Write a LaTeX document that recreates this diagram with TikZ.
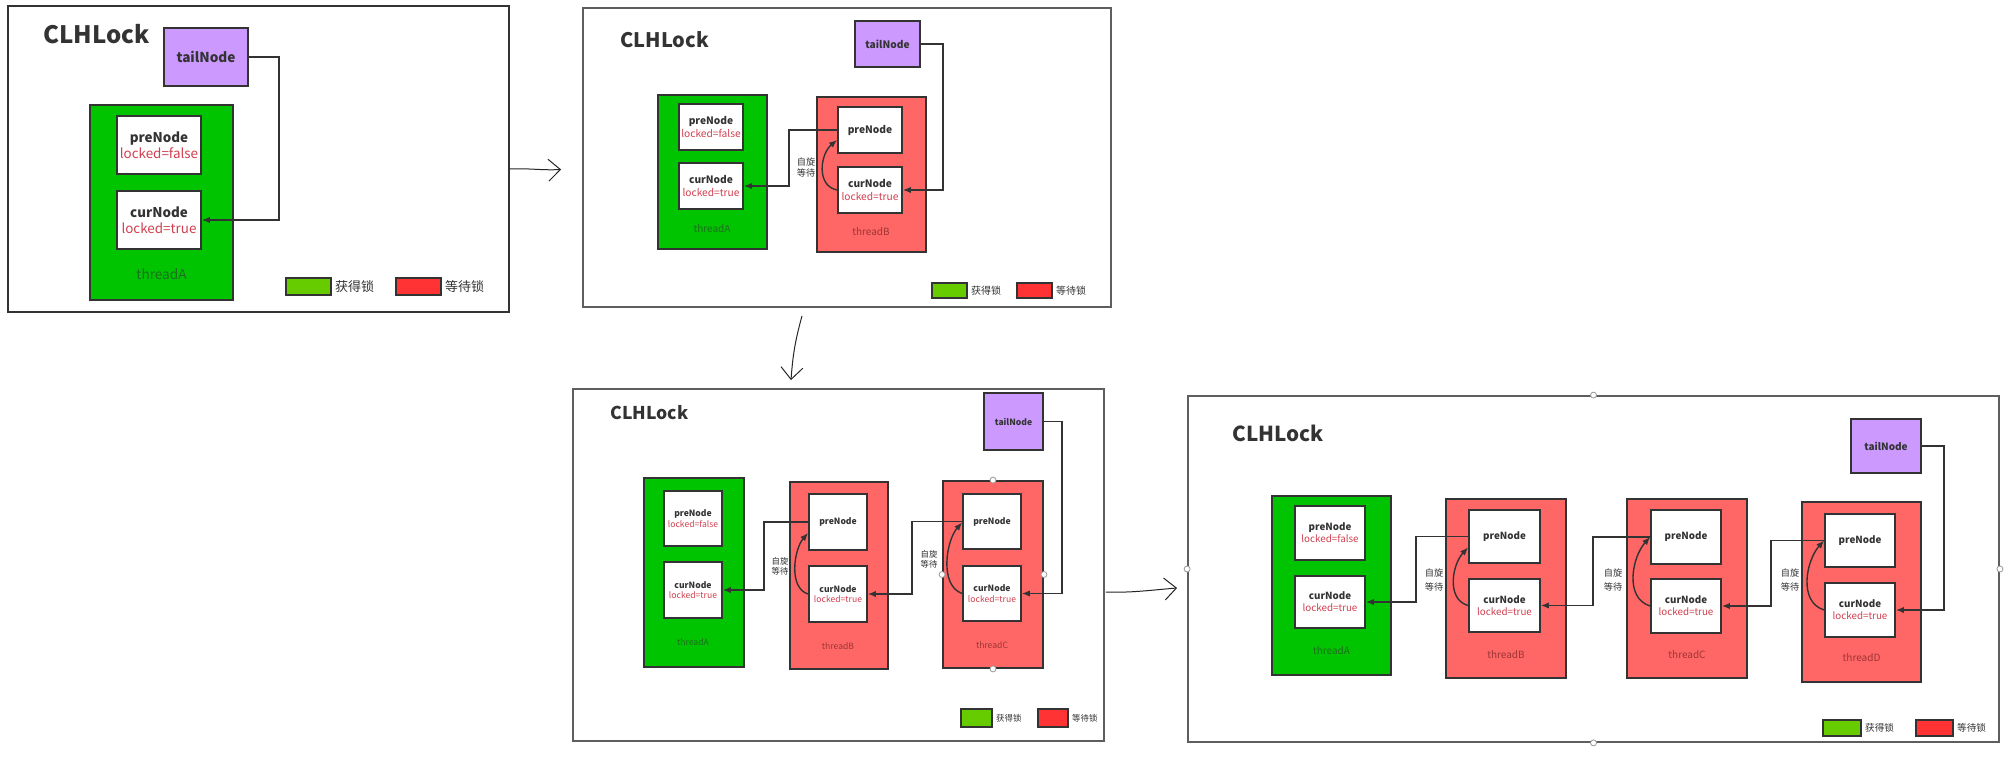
\documentclass[tikz,border=0pt]{standalone}
\usepackage{fontspec}
\setmainfont{Noto Sans CJK SC}
\usetikzlibrary{arrows.meta}

\definecolor{edge}{HTML}{333333}
\definecolor{framegray}{HTML}{5E5E5E}
\definecolor{okgreen}{HTML}{00C400}
\definecolor{waitred}{HTML}{FF6666}
\definecolor{tailpurple}{HTML}{CC99FF}
\definecolor{keygreen}{HTML}{66CC00}
\definecolor{keyred}{HTML}{FF3333}
\definecolor{lockred}{HTML}{D0404F}
\definecolor{greentxt}{HTML}{1E6E1E}
\definecolor{redtxt}{HTML}{9E3535}

% box from its corners: name, x1, y1, x2, y2, style, text
\newcommand{\boxnode}[7]{\node[#6, minimum width={(#4-#2)*0.5pt}, minimum height={(#5-#3)*0.5pt}] (#1) at ({(#2+#4)/2},{(#3+#5)/2}) {#7};}
\newcommand{\celltext}[2]{\textbf{#1}\\\textcolor{lockred}{#2}}

\begin{document}
\begin{tikzpicture}[x=0.5pt, y=-0.5pt,
    frame/.style={draw=#1, line width=0.9pt, inner sep=0pt},
    thread/.style={draw=edge, fill=#1, line width=0.9pt, inner sep=0pt},
    cell/.style 2 args={draw=edge, fill=white, line width=0.9pt, inner sep=0pt,
      align=center, text=edge, font=\fontsize{#1}{#2}\selectfont},
    tailbox/.style={draw=edge, fill=tailpurple, line width=0.9pt, inner sep=0pt,
      text=edge, font=\bfseries\fontsize{#1}{#1}\selectfont},
    title/.style={anchor=west, inner sep=0pt, text=edge, font=\bfseries\fontsize{#1}{#1}\selectfont},
    tlabel/.style={inner sep=0pt, font=\fontsize{#1}{#1}\selectfont},
    spin/.style 2 args={inner sep=0pt, align=center, text=edge, font=\fontsize{#1}{#2}\selectfont},
    key/.style={draw=edge, fill=#1, line width=0.8pt, inner sep=0pt},
    keytext/.style={anchor=west, inner sep=1.5pt, text=edge, font=\fontsize{#1}{#1}\selectfont},
    link/.style={draw=edge, line width=0.7pt, -{Latex[length=4pt,width=3.2pt]}},
    sketch/.style={draw=black!85, line width=0.5pt, -{Straight Barb[length=6pt,width=11pt]}},
    handle/.style={circle, draw=black!40, fill=white, line width=0.4pt, inner sep=0pt, minimum size=3pt}]

  \useasboundingbox (0,0) rectangle (2014,760);
  \fill[white] (0,0) rectangle (2014,760);

  % panel 1: threadA holds the lock
  \boxnode{f1}{8}{6}{509}{312}{frame=edge}{}
  \node[title=12] (t1) at (43,34) {CLHLock};
  \boxnode{tail1}{164}{28}{248}{86}{tailbox=6.8}{tailNode}
  \boxnode{a1}{90}{105}{233}{300}{thread=okgreen}{}
  \boxnode{a1p}{117}{116}{201}{174}{cell={6.7}{8}}{\celltext{preNode}{locked=false}}
  \boxnode{a1c}{117}{191}{201}{249}{cell={6.7}{8}}{\celltext{curNode}{locked=true}}
  \node[tlabel=6.8, text=greentxt] (a1l) at (161.5,274) {threadA};
  \draw[link] (tail1.east) -- ++(30,0) |- (a1c.east);
  \boxnode{k1g}{286}{278}{331}{295}{key=keygreen}{}
  \node[keytext=6.5] (k1gt) at (k1g.east) {获得锁};
  \boxnode{k1r}{396}{278}{441}{295}{key=keyred}{}
  \node[keytext=6.5] (k1rt) at (k1r.east) {等待锁};

  % panel 2: threadB spins on threadA
  \boxnode{f2}{583}{8}{1111}{307}{frame=framegray}{}
  \node[title=10] (t2) at (620,40) {CLHLock};
  \boxnode{tail2}{855}{21}{920}{67}{tailbox=5.1}{tailNode}
  \boxnode{a2}{658}{95}{767}{249}{thread=okgreen}{}
  \boxnode{a2p}{679}{104}{743}{150}{cell={5.1}{6.2}}{\celltext{preNode}{locked=false}}
  \boxnode{a2c}{679}{163}{743}{209}{cell={5.1}{6.2}}{\celltext{curNode}{locked=true}}
  \node[tlabel=5, text=greentxt] (a2l) at (712,229) {threadA};
  \boxnode{b2}{817}{97}{926}{252}{thread=waitred}{}
  \boxnode{b2p}{838}{107}{902}{153}{cell={5.1}{6.2}}{\textbf{preNode}}
  \boxnode{b2c}{838}{167}{902}{213}{cell={5.1}{6.2}}{\celltext{curNode}{locked=true}}
  \node[tlabel=5, text=redtxt] (b2l) at (871,232) {threadB};
  \draw[link] (tail2.east) -- ++(22,0) |- (b2c.east);
  \draw[link] (b2p.west) -- ++(-48,0) |- (a2c.east);
  \draw[link] (b2c.west) .. controls +(-21,-4) and +(-17,14) .. ([yshift=-5pt]b2p.west);
  \node[spin={4.6}{5.6}] (s2b) at (806,167.5) {自旋\\等待};
  \boxnode{k2g}{932}{283}{967}{298}{key=keygreen}{}
  \node[keytext=5] (k2gt) at (k2g.east) {获得锁};
  \boxnode{k2r}{1017}{283}{1052}{298}{key=keyred}{}
  \node[keytext=5] (k2rt) at (k2r.east) {等待锁};

  % panel 3: threadC joins the queue
  \boxnode{f3}{573}{389}{1104}{741}{frame=framegray}{}
  \node[title=8.8] (t3) at (610,413) {CLHLock};
  \boxnode{tail3}{984}{393}{1043}{450}{tailbox=4.3}{tailNode}
  \boxnode{a3}{644}{478}{744}{667}{thread=okgreen}{}
  \boxnode{a3p}{664}{491}{722}{546}{cell={4.3}{5.3}}{\celltext{preNode}{locked=false}}
  \boxnode{a3c}{664}{562}{722}{618}{cell={4.3}{5.3}}{\celltext{curNode}{locked=true}}
  \node[tlabel=4.3, text=greentxt] (a3l) at (693,642) {threadA};
  \boxnode{b3}{790}{482}{888}{669}{thread=waitred}{}
  \boxnode{b3p}{809}{494}{867}{550}{cell={4.3}{5.3}}{\textbf{preNode}}
  \boxnode{b3c}{809}{566}{867}{622}{cell={4.3}{5.3}}{\celltext{curNode}{locked=true}}
  \node[tlabel=4.3, text=redtxt] (b3l) at (838,646) {threadB};
  \boxnode{c3}{943}{481}{1043}{668}{thread=waitred}{}
  \boxnode{c3p}{963}{494}{1021}{549}{cell={4.3}{5.3}}{\textbf{preNode}}
  \boxnode{c3c}{963}{566}{1021}{621}{cell={4.3}{5.3}}{\celltext{curNode}{locked=true}}
  \node[tlabel=4.3, text=redtxt] (c3l) at (992,645) {threadC};
  \draw[link] (tail3.east) -- ++(18,0) |- (c3c.east);
  \draw[link] (b3p.west) -- ++(-44,0) |- (a3c.east);
  \draw[link] (c3p.west) -- ++(-50,0) |- (b3c.east);
  \draw[link] (b3c.west) .. controls +(-20,-6) and +(-14,16) .. ([yshift=-5.5pt]b3p.west);
  \draw[link] (c3c.west) .. controls +(-23,-8) and +(-16,18) .. ([yshift=-0.5pt]c3p.west);
  \node[spin={4.2}{5.2}] (s3b) at (780,566.5) {自旋\\等待};
  \node[spin={4.2}{5.2}] (s3c) at (929,559.5) {自旋\\等待};
  \foreach \a in {north,south,east,west}
    \node[handle] (h3\a) at (c3.\a) {};
  \boxnode{k3g}{961}{709}{992}{727}{key=keygreen}{}
  \node[keytext=4.2] (k3gt) at (k3g.east) {获得锁};
  \boxnode{k3r}{1038}{709}{1068}{727}{key=keyred}{}
  \node[keytext=4.2] (k3rt) at (k3r.east) {等待锁};

  % panel 4: threadD joins the queue
  \boxnode{f4}{1188}{396}{1999}{742}{frame=framegray}{}
  \node[title=10.3] (t4) at (1232,433) {CLHLock};
  \boxnode{tail4}{1851}{419}{1921}{473}{tailbox=5}{tailNode}
  \boxnode{a4}{1272}{496}{1391}{675}{thread=okgreen}{}
  \boxnode{a4p}{1295}{506}{1365}{560}{cell={4.9}{6.1}}{\celltext{preNode}{locked=false}}
  \boxnode{a4c}{1295}{576}{1365}{628}{cell={4.9}{6.1}}{\celltext{curNode}{locked=true}}
  \node[tlabel=5, text=greentxt] (a4l) at (1331.5,651) {threadA};
  \boxnode{b4}{1446}{499}{1566}{678}{thread=waitred}{}
  \boxnode{b4p}{1469}{510}{1540}{563}{cell={4.9}{6.1}}{\textbf{preNode}}
  \boxnode{b4c}{1469}{579}{1540}{632}{cell={4.9}{6.1}}{\celltext{curNode}{locked=true}}
  \node[tlabel=5, text=redtxt] (b4l) at (1506,655) {threadB};
  \boxnode{c4}{1627}{499}{1747}{678}{thread=waitred}{}
  \boxnode{c4p}{1651}{510}{1721}{564}{cell={4.9}{6.1}}{\textbf{preNode}}
  \boxnode{c4c}{1651}{579}{1721}{633}{cell={4.9}{6.1}}{\celltext{curNode}{locked=true}}
  \node[tlabel=5, text=redtxt] (c4l) at (1687,655) {threadC};
  \boxnode{d4}{1802}{502}{1921}{682}{thread=waitred}{}
  \boxnode{d4p}{1825}{514}{1895}{567}{cell={4.9}{6.1}}{\textbf{preNode}}
  \boxnode{d4c}{1825}{583}{1895}{637}{cell={4.9}{6.1}}{\celltext{curNode}{locked=true}}
  \node[tlabel=5, text=redtxt] (d4l) at (1861.5,658) {threadD};
  \draw[link] (tail4.east) -- ++(22,0) |- (d4c.east);
  \draw[link] (b4p.west) -- ++(-52,0) |- (a4c.east);
  \draw[link] (c4p.west) -- ++(-57,0) |- (b4c.east);
  \draw[link] (d4p.west) -- ++(-53,0) |- (c4c.east);
  \draw[link] (b4c.west) .. controls +(-22,-6) and +(-16,17) .. ([yshift=-5.5pt]b4p.west);
  \draw[link] (c4c.west) .. controls +(-26,-8) and +(-18,20) .. (c4p.west);
  \draw[link] (d4c.west) .. controls +(-26,-8) and +(-18,20) .. (d4p.west);
  \node[spin={4.6}{6.8}] (s4b) at (1434,580) {自旋\\等待};
  \node[spin={4.6}{6.8}] (s4c) at (1613,580) {自旋\\等待};
  \node[spin={4.6}{6.8}] (s4d) at (1790,580) {自旋\\等待};
  \foreach \a in {north,south,east,west}
    \node[handle] (h4\a) at (f4.\a) {};
  \boxnode{k4g}{1823}{720}{1861}{736}{key=keygreen}{}
  \node[keytext=4.8] (k4gt) at (k4g.east) {获得锁};
  \boxnode{k4r}{1916}{720}{1953}{736}{key=keyred}{}
  \node[keytext=4.8] (k4rt) at (k4r.east) {等待锁};

  % hand-drawn steps between the panels
  \draw[sketch] ([yshift=-5pt]f1.east) .. controls +(18,-1) and +(-20,1) .. ([xshift=-10.5pt,yshift=-6pt]f2.west);
  \draw[sketch] ([xshift=-22.5pt,yshift=-4pt]f2.south) .. controls +(-6,22) and +(2,-28) .. ([xshift=-23.75pt,yshift=4pt]f3.north);
  \draw[sketch] ([xshift=0.5pt,yshift=-13.5pt]f3.east) .. controls +(25,1) and +(-25,2) .. ([xshift=-5pt,yshift=-9.5pt]f4.west);
\end{tikzpicture}
\end{document}
